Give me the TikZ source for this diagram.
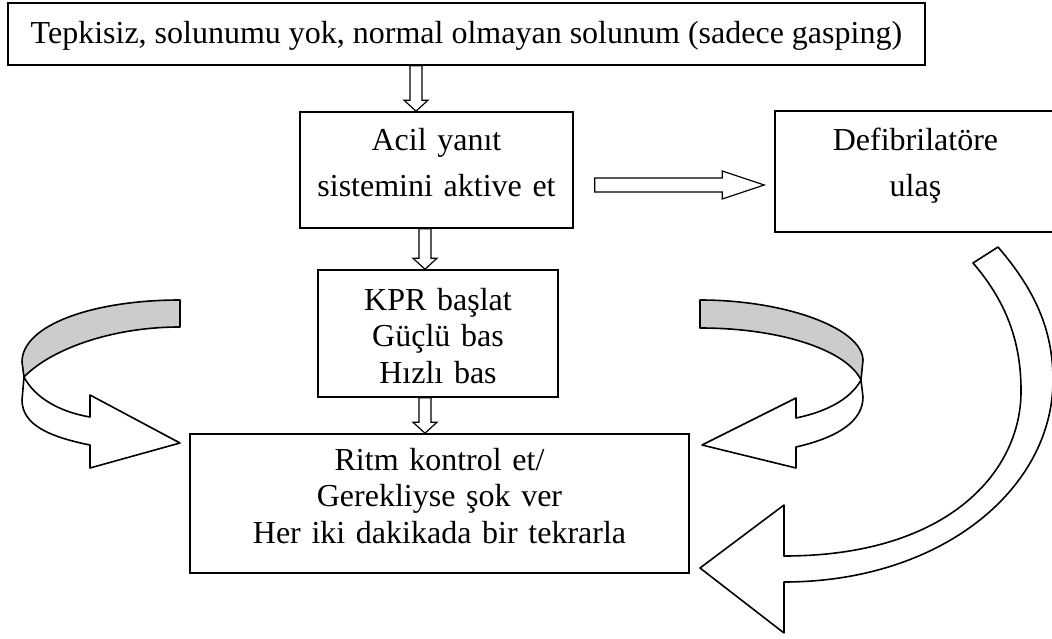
\documentclass[tikz,border=0pt]{standalone}
\usepackage{fontspec}
\setmainfont{Liberation Serif}
\usetikzlibrary{calc}

\begin{document}
\begin{tikzpicture}[
  x=0.375pt, y=-0.375pt,
  box/.style={draw, line width=0.6pt, inner sep=0pt, align=center, text height=7.5pt, font=\fontsize{12}{13.7}\selectfont},
  wide/.style={font=\fontsize{12}{17.6}\selectfont},
  blockarrow/.style={draw, line width=0.45pt, fill=white},
  ribbon/.style={draw, line width=0.6pt, fill=white, line join=round},
  ribbonback/.style={ribbon, fill=black!20},
]
  \useasboundingbox (0,0) rectangle (1052,639);

  \node[box, anchor=west, inner xsep=8.6pt, minimum height=23.25pt, text height=11.25pt, text depth=4.5pt] (start) at (7,34) {Tepkisiz, solunumu yok, normal olmayan solunum (sadece gasping)};
  \node[box, wide, text width=102.4pt, minimum height=43.5pt, text depth=22.5pt] (alarm) at (436.5,170) {Acil yanıt\\sistemini aktive et};
  \node[box, wide, text width=105.4pt, minimum height=45.4pt, text depth=23.6pt] (defib) at (915.5,171.5) {Defibrilatöre\\ulaş};
  \node[box, text width=90pt, minimum height=47.6pt, text depth=25.1pt] (cpr) at (438,333.5) {KPR başlat\\Güçlü bas\\Hızlı bas};
  \node[box, text width=187.1pt, minimum height=52.1pt, text depth=32.6pt] (rhythm) at (439.5,503.5) {Ritm kontrol et/\\Gerekliyse şok ver\\Her iki dakikada bir tekrarla};

  % block arrows down the middle
  \foreach \a/\b/\dx in {start/alarm/-20.5, alarm/cpr/-13, cpr/rhythm/-14.5}{
    \coordinate (tip) at ($(\b.north)+(\dx,0)$);
    \coordinate (tail) at (tip |- \a.south);
    \draw[blockarrow] ($(tail)+(-6,0)$) -- ($(tip)+(-6,-11)$) -- ($(tip)+(-12,-11)$) -- (tip)
      -- ($(tip)+(12,-11)$) -- ($(tip)+(6,-11)$) -- ($(tail)+(6,0)$) -- cycle;
  }

  % block arrow to the defibrillator
  \coordinate (tail) at ($(alarm.east)+(21,15)$);
  \coordinate (tip) at ($(defib.west)+(-10,13.5)$);
  \draw[blockarrow] ($(tail)+(0,-7)$) -- ($(tip)+(-42,-7)$) -- ($(tip)+(-42,-14)$) -- (tip)
    -- ($(tip)+(-42,14)$) -- ($(tip)+(-42,7)$) -- ($(tail)+(0,7)$) -- cycle;

  % left loop
  \draw[ribbonback] (180,300) .. controls (93,300) and (22,325) .. (22,362) -- (24,377)
    .. controls (50,350) and (110,327) .. (180,327) -- cycle;
  \draw[ribbon] (24,377) .. controls (35,398) and (60,412) .. (90,417) -- (90,395) -- (180,443)
    -- (90,468) -- (90,445) .. controls (50,437) and (22,425) .. (22,400) -- cycle;

  % right loop
  \draw[ribbonback] (700,300) .. controls (785,300) and (862,328) .. (863,360) -- (861,380)
    .. controls (848,352) and (785,328) .. (700,328) -- cycle;
  \draw[ribbon] (861,380) .. controls (850,400) and (825,412) .. (796,418) -- (796,398) -- (702,445)
    -- (796,468) -- (796,447) .. controls (840,437) and (863,420) .. (863,397) -- cycle;

  % big return arrow
  \draw[ribbon] (973,263) -- (998,247) .. controls (1035,290) and (1053,330) .. (1053,380)
    .. controls (1053,490) and (940,582) .. (784,582) -- (784,633) -- (700,568) -- (784,505)
    -- (784,556) .. controls (950,556) and (1022,470) .. (1021,390)
    .. controls (1021,340) and (1005,300) .. (973,263) -- cycle;
\end{tikzpicture}
\end{document}
